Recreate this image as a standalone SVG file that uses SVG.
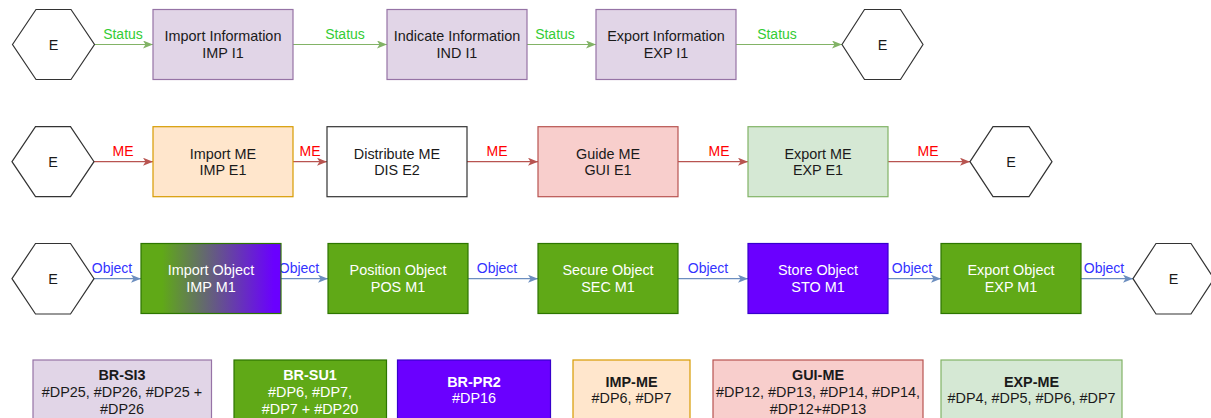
<svg xmlns="http://www.w3.org/2000/svg" width="1211" height="418" viewBox="0 0 1211 418">
<style>
text{font-family:"Liberation Sans",Arial,sans-serif;text-anchor:middle}
.n{font-size:14.4px;fill:#1a1a1a}
.w{font-size:14.4px;fill:#ffffff}
.b{font-weight:bold}
.hex{fill:#ffffff;stroke:#333333;stroke-width:1.2}
.pur{fill:#e1d5e7;stroke:#9673a6;stroke-width:1.2}
.org{fill:#ffe6cc;stroke:#d79b00;stroke-width:1.2}
.wht{fill:#ffffff;stroke:#333333;stroke-width:1.2}
.red{fill:#f8cecc;stroke:#b85450;stroke-width:1.2}
.lgr{fill:#d5e8d4;stroke:#82b366;stroke-width:1.2}
.grn{fill:#60a917;stroke:#2d7600;stroke-width:1.2}
.vio{fill:#6a00ff;stroke:#3700cc;stroke-width:1.2}
.eg{stroke:#82b366;stroke-width:1.2;fill:none;marker-end:url(#ag)}
.er{stroke:#b85450;stroke-width:1.2;fill:none;marker-end:url(#ar)}
.eb{stroke:#6c8ebf;stroke-width:1.2;fill:none;marker-end:url(#ab)}
.lg{font-size:14px;fill:#33cc33}
.lr{font-size:14px;fill:#ff0000}
.lb{font-size:14px;fill:#3333ff}
</style>
<defs>
<marker id="ag" viewBox="0 0 10 8" refX="10" refY="4" markerWidth="10" markerHeight="8" markerUnits="userSpaceOnUse" orient="auto"><path d="M0,0 L10,4 L0,8 L2.5,4 Z" fill="#82b366"/></marker>
<marker id="ar" viewBox="0 0 10 8" refX="10" refY="4" markerWidth="10" markerHeight="8" markerUnits="userSpaceOnUse" orient="auto"><path d="M0,0 L10,4 L0,8 L2.5,4 Z" fill="#b85450"/></marker>
<marker id="ab" viewBox="0 0 10 8" refX="10" refY="4" markerWidth="10" markerHeight="8" markerUnits="userSpaceOnUse" orient="auto"><path d="M0,0 L10,4 L0,8 L2.5,4 Z" fill="#6c8ebf"/></marker>
<linearGradient id="gimp" x1="0" y1="0" x2="1" y2="0">
<stop offset="0.15" stop-color="#60a917"/>
<stop offset="0.95" stop-color="#6a00ff"/>
</linearGradient>
</defs>

<g id="connectors">
<line class="eg" x1="94.5" y1="44.5" x2="153" y2="44.5"/>
<line class="eg" x1="293" y1="44.5" x2="387" y2="44.5"/>
<line class="eg" x1="527" y1="44.5" x2="596" y2="44.5"/>
<line class="eg" x1="736" y1="44.5" x2="842" y2="44.5"/>
<text class="lg" x="123" y="38.5">Status</text>
<text class="lg" x="345" y="38.5">Status</text>
<text class="lg" x="555" y="38.5">Status</text>
<text class="lg" x="777" y="38.5">Status</text>

<line class="er" x1="94" y1="161.7" x2="153" y2="161.7"/>
<line class="er" x1="293" y1="161.7" x2="327" y2="161.7"/>
<line class="er" x1="467" y1="161.7" x2="538" y2="161.7"/>
<line class="er" x1="678" y1="161.7" x2="748" y2="161.7"/>
<line class="er" x1="888" y1="161.7" x2="970" y2="161.7"/>
<text class="lr" x="123" y="155.5">ME</text>
<text class="lr" x="310" y="155.5">ME</text>
<text class="lr" x="497" y="155.5">ME</text>
<text class="lr" x="719" y="155.5">ME</text>
<text class="lr" x="928" y="155.5">ME</text>

<line class="eb" x1="94" y1="278.7" x2="141" y2="278.7"/>
<line class="eb" x1="281" y1="278.7" x2="328" y2="278.7"/>
<line class="eb" x1="468" y1="278.7" x2="538" y2="278.7"/>
<line class="eb" x1="678" y1="278.7" x2="748" y2="278.7"/>
<line class="eb" x1="888" y1="278.7" x2="941" y2="278.7"/>
<line class="eb" x1="1081" y1="278.7" x2="1133" y2="278.7"/>
<text class="lb" x="112" y="272.5">Object</text>
<text class="lb" x="299" y="272.5">Object</text>
<text class="lb" x="497" y="272.5">Object</text>
<text class="lb" x="708" y="272.5">Object</text>
<text class="lb" x="912" y="272.5">Object</text>
<text class="lb" x="1104" y="272.5">Object</text>
</g>

<g id="e1a"><polygon class="hex" points="12.5,44.5 36,9.5 71,9.5 94.5,44.5 71,79.5 36,79.5"/><text class="n" x="53.5" y="49.5">E</text></g>
<g id="imp-i1"><rect class="pur" x="153" y="9.5" width="140" height="70"/><text class="n" x="223" y="41.3">Import Information</text><text class="n" x="223" y="58">IMP I1</text></g>
<g id="ind-i1"><rect class="pur" x="387" y="9.5" width="140" height="70"/><text class="n" x="457" y="41.3">Indicate Information</text><text class="n" x="457" y="58">IND I1</text></g>
<g id="exp-i1"><rect class="pur" x="596" y="9.5" width="140" height="70"/><text class="n" x="666" y="41.3">Export Information</text><text class="n" x="666" y="58">EXP I1</text></g>
<g id="e1b"><polygon class="hex" points="842,44.5 864.5,9.5 900.5,9.5 923,44.5 900.5,79.5 864.5,79.5"/><text class="n" x="882.5" y="49.5">E</text></g>

<g id="e2a"><polygon class="hex" points="12,161.7 35.5,126.7 70.5,126.7 94,161.7 70.5,196.7 35.5,196.7"/><text class="n" x="53" y="166.7">E</text></g>
<g id="imp-e1"><rect class="org" x="153" y="126.7" width="140" height="70"/><text class="n" x="223" y="158.5">Import ME</text><text class="n" x="223" y="175.2">IMP E1</text></g>
<g id="dis-e2"><rect class="wht" x="327" y="126.7" width="140" height="70"/><text class="n" x="397" y="158.5">Distribute ME</text><text class="n" x="397" y="175.2">DIS E2</text></g>
<g id="gui-e1"><rect class="red" x="538" y="126.7" width="140" height="70"/><text class="n" x="608" y="158.5">Guide ME</text><text class="n" x="608" y="175.2">GUI E1</text></g>
<g id="exp-e1"><rect class="lgr" x="748" y="126.7" width="140" height="70"/><text class="n" x="818" y="158.5">Export ME</text><text class="n" x="818" y="175.2">EXP E1</text></g>
<g id="e2b"><polygon class="hex" points="970,161.7 993,126.7 1029,126.7 1052,161.7 1029,196.7 993,196.7"/><text class="n" x="1011" y="166.7">E</text></g>

<g id="e3a"><polygon class="hex" points="12,278.7 35.5,243.5 70.5,243.5 94,278.7 70.5,314 35.5,314"/><text class="n" x="53" y="283.7">E</text></g>
<g id="imp-m1"><rect x="141" y="243.5" width="140" height="70" fill="url(#gimp)" stroke="#2d7600" stroke-width="1.2"/><text class="w" x="211" y="275.3">Import Object</text><text class="w" x="211" y="292">IMP M1</text></g>
<g id="pos-m1"><rect class="grn" x="328" y="243.5" width="140" height="70"/><text class="w" x="398" y="275.3">Position Object</text><text class="w" x="398" y="292">POS M1</text></g>
<g id="sec-m1"><rect class="grn" x="538" y="243.5" width="140" height="70"/><text class="w" x="608" y="275.3">Secure Object</text><text class="w" x="608" y="292">SEC M1</text></g>
<g id="sto-m1"><rect class="vio" x="748" y="243.5" width="140" height="70"/><text class="w" x="818" y="275.3">Store Object</text><text class="w" x="818" y="292">STO M1</text></g>
<g id="exp-m1"><rect class="grn" x="941" y="243.5" width="140" height="70"/><text class="w" x="1011" y="275.3">Export Object</text><text class="w" x="1011" y="292">EXP M1</text></g>
<g id="e3b"><polygon class="hex" points="1133,278.7 1156,243.5 1191,243.5 1214,278.7 1191,314 1156,314"/><text class="n" x="1173.5" y="283.7">E</text></g>

<g id="br-si3"><rect class="pur" x="33" y="360" width="178.5" height="65"/><text class="n b" x="122" y="380">BR-SI3</text><text class="n" x="122" y="397">#DP25, #DP26, #DP25 +</text><text class="n" x="122" y="413.5">#DP26</text></g>
<g id="br-su1"><rect class="grn" x="234" y="360" width="152.5" height="65"/><text class="w b" x="310" y="380">BR-SU1</text><text class="w" x="310" y="397">#DP6, #DP7,</text><text class="w" x="310" y="413.5">#DP7 + #DP20</text></g>
<g id="br-pr2"><rect class="vio" x="397.5" y="360" width="153" height="65"/><text class="w b" x="474" y="386.7">BR-PR2</text><text class="w" x="474" y="403.3">#DP16</text></g>
<g id="imp-me"><rect class="org" x="573" y="360" width="117" height="65"/><text class="n b" x="631.5" y="386.7">IMP-ME</text><text class="n" x="631.5" y="403.3">#DP6, #DP7</text></g>
<g id="gui-me"><rect class="red" x="713" y="360" width="210" height="65"/><text class="n b" x="818" y="380">GUI-ME</text><text class="n" x="818" y="397">#DP12, #DP13, #DP14, #DP14,</text><text class="n" x="818" y="413.5">#DP12+#DP13</text></g>
<g id="exp-me"><rect class="lgr" x="941" y="360" width="181" height="65"/><text class="n b" x="1031.5" y="386.7">EXP-ME</text><text class="n" x="1031.5" y="403.3">#DP4, #DP5, #DP6, #DP7</text></g>
</svg>
